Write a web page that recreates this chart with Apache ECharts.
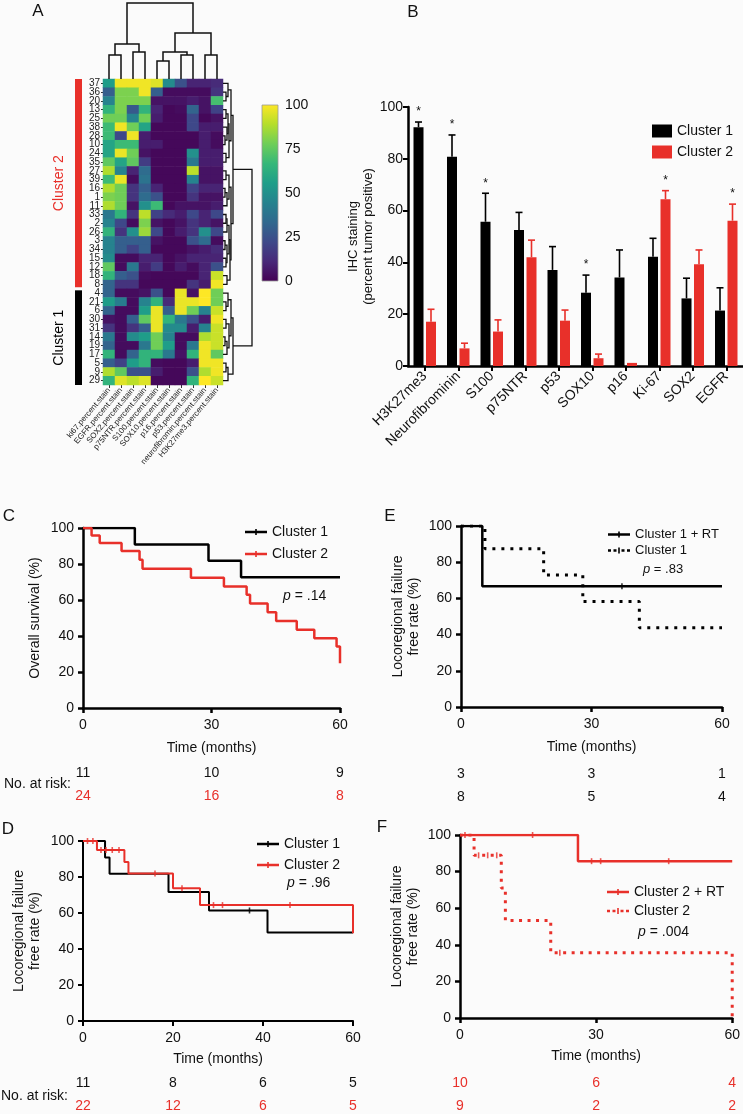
<!DOCTYPE html>
<html><head><meta charset="utf-8">
<script src="https://cdn.jsdelivr.net/npm/echarts@6/dist/echarts.min.js"></script>
<style>html,body{margin:0;padding:0;background:#fbfbfb}#c{width:743px;height:1114px}</style>
</head><body><div id="c"></div><script>
// ---------------- DATA ----------------
const heatCols = ['ki67.percent.stain','EGFR.percent.stain','SOX2.percent.stain','p75NTR.percent.stain','S100.percent.stain','SOX10.percent.stain','p16.percent.stain','p53.percent.stain','neurofibromin.percent.stain','H3K27me3.percent.stain'];
const heatRows = ['37','36','20','13','25','38','28','10','24','35','27','39','16','1','11','33','2','26','3','34','15','12','18','8','4','21','6','30','31','14','19','17','5','9','29'];
const heatValues = [
 [55,98,98,98,95,48,25,10,10,12],
 [30,80,80,98,30,3,3,3,3,15],
 [45,80,80,80,5,5,5,8,5,70],
 [65,80,28,65,10,2,3,32,5,20],
 [78,78,45,78,8,2,2,22,2,5],
 [68,98,78,58,2,2,2,22,8,8],
 [68,22,98,8,2,2,2,2,8,3],
 [58,68,68,8,8,2,2,2,8,3],
 [58,97,78,5,2,2,2,50,8,8],
 [75,58,75,18,2,2,2,40,8,8],
 [88,45,10,35,2,2,2,90,5,5],
 [68,97,3,38,2,2,2,45,5,5],
 [88,78,15,30,10,2,2,20,10,10],
 [80,78,15,35,25,2,2,15,5,5],
 [88,78,5,50,68,2,5,5,5,8],
 [40,65,15,90,20,12,8,22,10,22],
 [45,22,3,80,5,2,5,15,10,5],
 [65,15,50,85,22,2,8,15,50,22],
 [45,30,30,30,5,2,2,25,35,3],
 [45,30,20,30,2,2,2,5,8,12],
 [48,3,3,10,10,2,5,10,10,10],
 [75,3,40,8,18,2,8,3,10,25],
 [65,30,25,3,2,2,2,2,10,92],
 [32,15,15,2,2,2,2,15,8,98],
 [32,3,3,5,25,2,97,5,100,78],
 [55,42,3,45,65,12,97,97,100,78],
 [32,3,3,55,97,30,97,78,45,92],
 [5,3,30,75,97,65,40,25,8,98],
 [15,3,15,30,97,48,48,8,45,92],
 [40,3,48,55,78,45,3,3,88,92],
 [32,3,3,40,78,55,3,40,98,92],
 [65,3,32,65,65,40,5,65,98,75],
 [30,20,55,65,3,2,2,8,98,98],
 [88,75,25,25,8,2,2,25,88,98],
 [65,95,90,95,2,2,2,65,100,92]
];
const clusterLabels = ['Cluster 2','Cluster 1'];
const clusterRowStart = [0,24];
const clusterRowEnd = [23,34];
// linkage: [childA, childB, mergeHeight]; node ids continue after the leaves
const colLinkage = [[0,1,24],[2,3,27],[10,11,35],[4,5,18],[6,7,24],[13,14,27],[8,9,24],[15,16,46],[12,17,76]];
const rowLinkage = [
 [1,2,3],[0,35,5],[3,4,3],[6,7,2],[5,38,4],[37,39,5],[8,9,3],[40,41,6],[36,42,8],
 [10,11,3],[12,13,2],[45,14,4],[44,46,6],[15,16,3],[48,17,4],[18,19,2],[20,21,3],[50,51,4],[49,52,6],[22,23,4],[53,54,7],[47,55,8],
 [43,56,10],
 [25,26,3],[24,58,5],[27,28,3],[29,30,2],[61,31,4],[60,62,6],[59,63,8],[32,33,3],[65,34,5],[64,66,10],
 [57,67,29]
];
const colorbarRange = [0,100];

const ihcMarkers = ['H3K27me3','Neurofibrominin','S100','p75NTR','p53','SOX10','p16','Ki-67','SOX2','EGFR'];
const ihcCluster1 = [92.2,80.8,55.7,52.5,37.1,28.3,34.2,42.2,26.1,21.4];
const ihcCluster1Err = [2.0,8.4,11.0,6.8,9.0,6.8,10.6,7.1,7.8,8.8];
const ihcCluster2 = [17.1,6.8,13.3,42.0,17.5,3.0,1.2,64.4,39.3,56.1];
const ihcCluster2Err = [4.8,2.0,4.5,6.6,4.1,1.6,0,3.3,5.5,6.4];
const ihcSig1 = [1,1,1,0,0,1,0,0,0,0];
const ihcSig2 = [0,0,0,0,0,0,0,1,0,1];

const osC1 = [[0,100],[12.1,90.9],[29.3,81.8],[36.9,72.7],[60,72.7]];
const osC2 = [[0,100],[2,95.8],[3.9,91.7],[9,87.2],[13.2,82.4],[13.9,77.4],[25.2,72.4],[32.9,67.5],[38.2,62.9],[39,58.1],[43.1,53.2],[45.1,48.4],[49.9,43.5],[54,38.8],[59.2,34.1],[60,24.9]];
const osRiskC1 = [11,10,9];
const osRiskC2 = [24,16,8];

const eRT = [[0,100],[4.9,66.7],[60,66.7]];
const eRTCensor = [[37,66.7]];
const eC1 = [[0,100],[5.5,87.5],[19,72.9],[28,58.3],[41,43.8],[60,43.8]];
const eRiskRT = [3,3,1];
const eRiskC1 = [8,5,4];

const dC1 = [[0,100],[4.9,90.9],[5.9,81.8],[19,71.6],[28,61.4],[41,49.1],[60,49.1]];
const dC1Censor = [[37,61.4]];
const dC2 = [[0,100],[3.1,95.0],[9.2,88.4],[10.1,82.0],[20,73.7],[26,64.4],[60,64.4],[60,48.7]];
const dC2Censor = [[1,100],[2.2,100],[4,95],[5.1,95],[6.5,95],[8,95],[16,82],[22,73.7],[29,64.4],[31,64.4],[46,64.4]];
const dRiskC1 = [11,8,6,5];
const dRiskC2 = [22,12,6,5];

const fRT = [[0,100],[26,85.7],[60,85.7]];
const fRTCensor = [[1.1,100],[16,100],[29,85.7],[31,85.7],[46,85.7]];
const fC2 = [[0,100],[3.1,88.9],[9.1,71.1],[10,53.3],[20,35.6],[60,35.6],[60,0]];
const fC2Censor = [[4.1,88.9],[6.1,88.9],[8.1,88.9],[22,35.6]];
const fRiskRT = [10,6,4];
const fRiskC2 = [9,2,2];

// ---------------- STYLE ----------------
const FONT = '"Liberation Sans", Arial, Helvetica, sans-serif';
const RED = '#e8302a';
const INK = '#111111';
const VIRIDIS = ['#440154','#482878','#3e4989','#31688e','#26828e','#1f9e89','#35b779','#6ece58','#b5de2b','#fde725'];
const ICON_SOLID = 'path://M0,2.8h22v2.4h-22z M10.2,1h1.6v6h-1.6z';
const ICON_DOT = 'path://M0,2.8h3v2.4h-3z M5.5,2.8h3v2.4h-3z M10.2,1h1.6v6h-1.6z M13.5,2.8h3v2.4h-3z M19,2.8h3v2.4h-3z';

function dendroItems(linkage, n){
  const pos=[],h=[];
  for(let i=0;i<n;i++){pos.push(i);h.push(0);}
  return linkage.map(([a,b,hh])=>{
    const it=[pos[a],h[a],pos[b],h[b],hh];
    pos.push((pos[a]+pos[b])/2); h.push(hh);
    return it;
  });
}
const heatData=[];
heatValues.forEach((row,r)=>row.forEach((v,c)=>heatData.push([c,r,v])));

function kmX(gi, interval, nameGap, lw, margin){
  return {type:'value', gridIndex:gi, min:0, max:60, interval, name:'Time (months)', nameLocation:'middle', nameGap,
    nameTextStyle:{fontSize:14,color:INK,fontFamily:FONT},
    axisLine:{show:true,onZero:false,lineStyle:{color:'#000',width:lw}},
    axisTick:{show:true,length:5,lineStyle:{color:'#000',width:lw}},
    axisLabel:{fontSize:14,color:INK,margin:margin,showMinLabel:true,showMaxLabel:true},
    splitLine:{show:false}};
}
function riskX(gi, interval, offset, values, color){
  return {type:'value', gridIndex:gi, min:0, max:60, interval, position:'bottom', offset,
    axisLine:{show:false}, axisTick:{show:false}, splitLine:{show:false},
    axisLabel:{fontSize:14,color,margin:8,showMinLabel:true,showMaxLabel:true,formatter:v=>String(values[Math.round(v/interval)])}};
}
function kmY(gi, name, nameGap, lw){
  return {type:'value', gridIndex:gi, min:0, max:100, interval:20, name, nameLocation:'middle', nameGap,
    nameTextStyle:{fontSize:14,color:INK,lineHeight:16,fontFamily:FONT},
    axisLine:{show:true,onZero:false,lineStyle:{color:'#000',width:lw}},
    axisTick:{show:true,length:5,lineStyle:{color:'#000',width:lw}},
    axisLabel:{fontSize:14,color:INK,margin:9}, splitLine:{show:false}};
}
function kmLine(name, data, xi, yi, color, width, dash){
  return {type:'line', name, data, xAxisIndex:xi, yAxisIndex:yi, step:'end', symbol:'none',
    color, itemStyle:{color}, lineStyle:{color,width,type:dash||'solid'}, silent:true, z:3};
}
function censor(data, xi, yi, color){
  return {type:'scatter', data, xAxisIndex:xi, yAxisIndex:yi, symbol:'rect', symbolSize:[1.6,6], itemStyle:{color}, silent:true, z:4};
}
function kmLegend(names, icons, left, top, gap, fs){
  return {data:names.map((n,i)=>({name:n, icon:icons[i]})), left, top, orient:'vertical', itemWidth:22, itemHeight:6, itemGap:gap, selectedMode:false,
    formatter:n=>n.split('|')[1], textStyle:{fontSize:fs,color:INK,fontFamily:FONT}, padding:0};
}
function errSeries(means, errs, sig, color, offset){
  return {type:'custom', xAxisIndex:5, yAxisIndex:5, silent:true, z:5,
    data: ihcMarkers.map((m,i)=>[i,means[i],errs[i],sig[i]]),
    renderItem:(params,api)=>{
      const i=api.value(0), m=api.value(1), e=api.value(2), s=api.value(3);
      const b=api.coord([i,m]), t=api.coord([i,m+e]);
      const x=b[0]+offset;
      const ch=[];
      if(e>0){
        ch.push({type:'line',shape:{x1:x,y1:b[1],x2:x,y2:t[1]},style:{stroke:color,lineWidth:1.6}});
        ch.push({type:'line',shape:{x1:x-3.5,y1:t[1],x2:x+3.5,y2:t[1]},style:{stroke:color,lineWidth:1.6}});
      }
      if(s){
        ch.push({type:'text',x:x,y:t[1]-4,style:{text:'*',fontSize:12,fill:INK,align:'center',verticalAlign:'bottom',font:'12px '+FONT}});
      }
      return {type:'group',children:ch};
    }};
}

const option = {
  backgroundColor:'#fbfbfb',
  animation:false,
  textStyle:{fontFamily:FONT},
  grid:[
    {left:103, top:79, width:120, height:306},
    {left:103, top:3, width:120, height:76},
    {left:223, top:79, width:31, height:306},
    {left:75, top:79, width:7, height:306},
    {left:262, top:105, width:16, height:176},
    {left:408, top:107, width:335, height:259},
    {left:83, top:528, width:257, height:180},
    {left:461, top:526, width:261, height:181},
    {left:83, top:841, width:270, height:180},
    {left:460, top:835, width:275, height:183}
  ],
  xAxis:[
    {type:'category', gridIndex:0, data:heatCols, axisLine:{show:false},
      axisTick:{show:true,alignWithLabel:true,length:3,lineStyle:{color:'#333'}},
      axisLabel:{interval:0, rotate:50, fontSize:8, color:'#222', margin:4}},
    {type:'value', gridIndex:1, min:-0.5, max:9.5, show:false},
    {type:'value', gridIndex:2, min:0, max:31, show:false},
    {type:'category', gridIndex:3, data:['c'], show:false},
    {type:'category', gridIndex:4, data:['bar'], show:false},
    {type:'category', gridIndex:5, data:ihcMarkers,
      axisLine:{show:true,lineStyle:{color:'#000',width:2.5}},
      axisTick:{show:true,alignWithLabel:true,length:5,lineStyle:{color:'#000',width:2}},
      axisLabel:{interval:0, rotate:45, fontSize:14, color:INK, margin:8}},
    kmX(6,30,33,2.5,10), riskX(6,30,50,osRiskC1,INK), riskX(6,30,73,osRiskC2,RED),
    kmX(7,30,33,2.5,10), riskX(7,30,52,eRiskRT,INK), riskX(7,30,75,eRiskC1,INK),
    kmX(8,20,31,2,10), riskX(8,20,47,dRiskC1,INK), riskX(8,20,70,dRiskC2,RED),
    kmX(9,30,31,2.5,10), riskX(9,30,50,fRiskRT,RED), riskX(9,30,73,fRiskC2,RED)
  ],
  yAxis:[
    {type:'category', gridIndex:0, data:heatRows, inverse:true, axisLine:{show:false},
      axisTick:{show:true,alignWithLabel:true,length:2,lineStyle:{color:'#333'}},
      axisLabel:{interval:0, fontSize:10, color:'#222', margin:3}},
    {type:'value', gridIndex:1, min:0, max:76, show:false},
    {type:'value', gridIndex:2, min:-0.5, max:34.5, inverse:true, show:false},
    {type:'category', gridIndex:3, data:heatRows, inverse:true, show:false},
    {type:'value', gridIndex:4, min:colorbarRange[0], max:colorbarRange[1], interval:25, position:'right',
      axisLine:{show:false}, axisTick:{show:true,inside:true,length:3,lineStyle:{color:'#fff',width:1}},
      axisLabel:{fontSize:14,color:INK,margin:7}, splitLine:{show:false}},
    {type:'value', gridIndex:5, min:0, max:100, interval:20, name:'IHC staining\n(percent tumor positive)', nameLocation:'middle', nameGap:20,
      nameTextStyle:{fontSize:13,color:INK,lineHeight:15},
      axisLine:{show:true,lineStyle:{color:'#000',width:2.5}},
      axisTick:{show:true,length:5,lineStyle:{color:'#000',width:2}},
      axisLabel:{fontSize:14,color:INK,margin:5}, splitLine:{show:false}},
    kmY(6,'Overall survival (%)',40,2.5),
    kmY(7,'Locoregional failure\nfree rate (%)',39,2.5),
    kmY(8,'Locoregional failure\nfree rate (%)',40,2),
    kmY(9,'Locoregional failure\nfree rate (%)',39,2.5)
  ],
  visualMap:[{type:'continuous', show:false, min:0, max:100, seriesIndex:0, inRange:{color:VIRIDIS}}],
  legend:[
    {data:['B|Cluster 1','B|Cluster 2'], left:652, top:124, orient:'vertical', icon:'rect', itemWidth:20, itemHeight:13, itemGap:7,
      selectedMode:false, formatter:n=>n.split('|')[1], textStyle:{fontSize:14,color:INK}, padding:0},
    kmLegend(['C|Cluster 1','C|Cluster 2'],[ICON_SOLID,ICON_SOLID],245,525,8,14),
    kmLegend(['E|Cluster 1 + RT','E|Cluster 1'],[ICON_SOLID,ICON_DOT],608,528,3,13),
    kmLegend(['D|Cluster 1','D|Cluster 2'],[ICON_SOLID,ICON_SOLID],257,837,7,14),
    kmLegend(['F|Cluster 2 + RT','F|Cluster 2'],[ICON_SOLID,ICON_DOT],607,885,5,14)
  ],
  title:[
    {text:'{i|p} = .14', left:283, top:589, textStyle:{fontSize:14,fontWeight:'normal',color:INK,rich:{i:{fontStyle:'italic',fontSize:14,color:INK}}},padding:0},
    {text:'{i|p} = .83', left:643, top:563, textStyle:{fontSize:13,fontWeight:'normal',color:INK,rich:{i:{fontStyle:'italic',fontSize:13,color:INK}}},padding:0},
    {text:'{i|p} = .96', left:287, top:876, textStyle:{fontSize:14,fontWeight:'normal',color:INK,rich:{i:{fontStyle:'italic',fontSize:14,color:INK}}},padding:0},
    {text:'{i|p} = .004', left:638, top:925, textStyle:{fontSize:14,fontWeight:'normal',color:INK,rich:{i:{fontStyle:'italic',fontSize:14,color:INK}}},padding:0}
  ],
  graphic:[
    {type:'text', x:38, y:11, style:{text:'A', font:'17px '+FONT, fill:INK, align:'center', verticalAlign:'middle'}},
    {type:'text', x:413, y:12, style:{text:'B', font:'17px '+FONT, fill:INK, align:'center', verticalAlign:'middle'}},
    {type:'text', x:9, y:516, style:{text:'C', font:'17px '+FONT, fill:INK, align:'center', verticalAlign:'middle'}},
    {type:'text', x:390, y:516, style:{text:'E', font:'17px '+FONT, fill:INK, align:'center', verticalAlign:'middle'}},
    {type:'text', x:8, y:829, style:{text:'D', font:'17px '+FONT, fill:INK, align:'center', verticalAlign:'middle'}},
    {type:'text', x:382, y:827, style:{text:'F', font:'17px '+FONT, fill:INK, align:'center', verticalAlign:'middle'}},
    {type:'text', x:4, y:784, style:{text:'No. at risk:', font:'14px '+FONT, fill:INK, align:'left', verticalAlign:'middle'}},
    {type:'text', x:1, y:1096, style:{text:'No. at risk:', font:'14px '+FONT, fill:INK, align:'left', verticalAlign:'middle'}}
  ],
  series:[
    {type:'heatmap', xAxisIndex:0, yAxisIndex:0, data:heatData, silent:true, itemStyle:{borderWidth:0}, progressive:0},
    {type:'custom', xAxisIndex:1, yAxisIndex:1, silent:true, data:dendroItems(colLinkage,heatCols.length),
      renderItem:(p,api)=>{
        const pa=api.value(0),ha=api.value(1),pb=api.value(2),hb=api.value(3),h=api.value(4);
        return {type:'polyline',shape:{points:[api.coord([pa,ha]),api.coord([pa,h]),api.coord([pb,h]),api.coord([pb,hb])]},style:{stroke:'#111',lineWidth:1.5,fill:null}};
      }},
    {type:'custom', xAxisIndex:2, yAxisIndex:2, silent:true, data:dendroItems(rowLinkage,heatRows.length),
      renderItem:(p,api)=>{
        const pa=api.value(0),ha=api.value(1),pb=api.value(2),hb=api.value(3),h=api.value(4);
        return {type:'polyline',shape:{points:[api.coord([ha,pa]),api.coord([h,pa]),api.coord([h,pb]),api.coord([hb,pb])]},style:{stroke:'#111',lineWidth:1.3,fill:null}};
      }},
    {type:'custom', xAxisIndex:3, yAxisIndex:3, silent:true,
      data:clusterLabels.map((l,i)=>[clusterRowStart[i],clusterRowEnd[i]]),
      renderItem:(p,api)=>{
        const i=p.dataIndex, cs=p.coordSys;
        const s=api.value(0), e=api.value(1);
        const p0=api.coord([0,s]), p1=api.coord([0,e]);
        const band=api.size([0,1])[1];
        const col = clusterLabels[i]==='Cluster 2'?RED:'#000';
        const y0=p0[1]-band/2+(i>0?1.5:0), y1=p1[1]+band/2-(i===0?1.5:0);
        return {type:'group',children:[
          {type:'rect',shape:{x:cs.x,y:y0,width:cs.width,height:y1-y0},style:{fill:col}},
          {type:'text',x:cs.x-16,y:(y0+y1)/2,rotation:Math.PI/2,style:{text:clusterLabels[i],font:'14px '+FONT,fill:col,align:'center',verticalAlign:'middle'}}
        ]};
      }},
    {type:'custom', xAxisIndex:4, yAxisIndex:4, silent:true, data:[[0,colorbarRange[0],colorbarRange[1]]],
      renderItem:(p,api)=>{
        const cs=p.coordSys;
        const a=api.coord([0,api.value(1)]), b=api.coord([0,api.value(2)]);
        return {type:'rect',shape:{x:cs.x,y:b[1],width:cs.width,height:a[1]-b[1]},
          style:{fill:{type:'linear',x:0,y:1,x2:0,y2:0,colorStops:VIRIDIS.map((c,k)=>({offset:k/(VIRIDIS.length-1),color:c}))},stroke:'#9a9a9a',lineWidth:0.8}};
      }},
    {type:'bar', name:'B|Cluster 1', xAxisIndex:5, yAxisIndex:5, data:ihcCluster1, barWidth:10, barGap:'25%', itemStyle:{color:'#000'}, silent:true},
    {type:'bar', name:'B|Cluster 2', xAxisIndex:5, yAxisIndex:5, data:ihcCluster2, barWidth:10, barGap:'25%', itemStyle:{color:RED}, silent:true},
    errSeries(ihcCluster1, ihcCluster1Err, ihcSig1, '#000', -6.25),
    errSeries(ihcCluster2, ihcCluster2Err, ihcSig2, RED, 6.25),
    kmLine('C|Cluster 1', osC1, 6, 6, '#000', 2.5),
    kmLine('C|Cluster 2', osC2, 6, 6, RED, 2.5),
    kmLine('E|Cluster 1 + RT', eRT, 9, 7, '#000', 2.5),
    kmLine('E|Cluster 1', eC1, 9, 7, '#000', 3, [3,6]),
    censor(eRTCensor, 9, 7, '#000'),
    kmLine('D|Cluster 1', dC1, 12, 8, '#000', 2),
    kmLine('D|Cluster 2', dC2, 12, 8, RED, 2),
    censor(dC1Censor, 12, 8, '#000'),
    censor(dC2Censor, 12, 8, RED),
    kmLine('F|Cluster 2 + RT', fRT, 15, 9, RED, 2.5),
    kmLine('F|Cluster 2', fC2, 15, 9, RED, 3, [3,5.5]),
    censor(fRTCensor, 15, 9, RED),
    censor(fC2Censor, 15, 9, RED)
  ]
};
const chart = echarts.init(document.getElementById('c'), null, {renderer:'canvas', width:743, height:1114});
chart.setOption(option);
</script></body></html>
